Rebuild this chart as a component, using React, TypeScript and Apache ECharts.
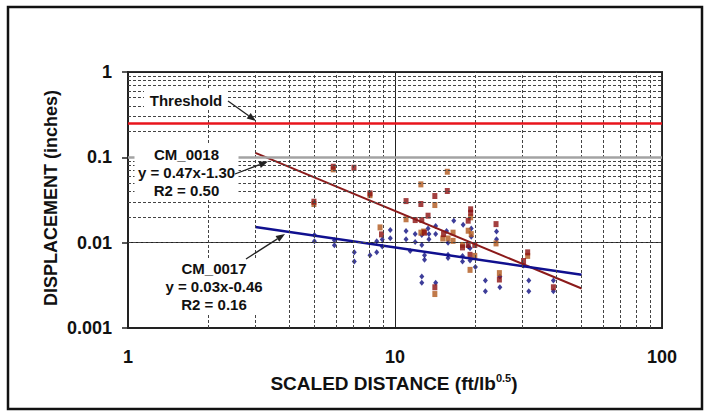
import React, { useEffect, useRef } from "react";
import * as echarts from "echarts";

// CM_0017 measurements (blue diamonds)
const cm0017Points: number[][] = [
  [4.99, 0.0123], [4.99, 0.0104], [5.93, 0.0107], [5.93, 0.0093], [7.04, 0.0077], [7.04, 0.006],
  [8.06, 0.0071], [8.54, 0.0104], [8.54, 0.0077], [8.96, 0.0109], [8.96, 0.009], [9.6, 0.0141], [9.6, 0.0113],
  [11.0, 0.0137], [11.0, 0.011], [11.4, 0.008], [11.9, 0.0126], [11.9, 0.0102], [12.6, 0.0123], [12.6, 0.0094],
  [13.3, 0.0147], [13.4, 0.0126], [13.4, 0.011], [14.2, 0.0157], [14.2, 0.0126], [12.9, 0.0071], [12.9, 0.0063],
  [12.6, 0.004], [12.6, 0.0034], [14.2, 0.0034], [15.6, 0.0137], [15.8, 0.01], [15.8, 0.0072], [15.8, 0.0066],
  [16.6, 0.0181], [18.0, 0.0162], [17.9, 0.007], [17.9, 0.006], [19.3, 0.0147], [19.3, 0.0117], [18.8, 0.009],
  [19.1, 0.0086], [19.1, 0.0062], [20.0, 0.0052], [21.8, 0.0036], [21.8, 0.0027], [24.0, 0.0135], [24.0, 0.011],
  [24.7, 0.004], [24.7, 0.003], [30.3, 0.0054], [31.7, 0.0036], [31.7, 0.0027], [39.2, 0.0036], [39.2, 0.0027],
];

// CM_0018 measurements (dark red squares)
const cm0018Dark: number[][] = [
  [4.97, 0.0302], [5.87, 0.0776], [7.02, 0.0755], [8.06, 0.0378], [8.9, 0.0125], [11.0, 0.0307], [11.9, 0.0184],
  [12.5, 0.0284], [12.6, 0.0184], [12.9, 0.0131], [13.3, 0.0207], [14.1, 0.0352], [15.2, 0.0126], [15.7, 0.0403],
  [18.8, 0.0181], [19.2, 0.0246], [19.2, 0.0224], [23.9, 0.0165], [17.9, 0.0088], [18.8, 0.0094], [19.9, 0.0094],
  [19.1, 0.0072], [14.1, 0.003], [24.6, 0.0037], [30.3, 0.0061], [31.4, 0.0077], [39.2, 0.003],
];

// CM_0018 measurements (orange-brown squares)
const cm0018Light: number[][] = [
  [4.97, 0.0284], [5.87, 0.0723], [8.06, 0.036], [8.79, 0.0151], [11.0, 0.0188], [12.5, 0.0482], [12.5, 0.0131],
  [12.8, 0.0135], [14.1, 0.0276], [15.1, 0.0112], [15.7, 0.0678], [15.8, 0.0112], [16.5, 0.0131], [16.5, 0.0105],
  [18.8, 0.0138], [19.2, 0.0198], [19.3, 0.0126], [17.9, 0.0094], [19.9, 0.007], [19.1, 0.0048], [23.9, 0.0098],
  [14.1, 0.0025], [24.6, 0.0044], [31.4, 0.007],
];

// Trend lines (end points) and threshold
const trend0018: number[][] = [[3, 0.113], [50, 0.0029]];
const trend0017: number[][] = [[3, 0.0153], [50, 0.0042]];
const threshold: number[][] = [[1, 0.25], [100, 0.25]];

// Minor grid positions
const minorX = [2, 3, 4, 5, 6, 7, 8, 9, 20, 30, 40, 50, 60, 70, 80, 90];
const minorY = [
  0.002, 0.003, 0.004, 0.005, 0.006, 0.007, 0.008, 0.009,
  0.02, 0.03, 0.04, 0.05, 0.06, 0.07, 0.08, 0.09,
  0.2, 0.3, 0.4, 0.5, 0.6, 0.7, 0.8, 0.9,
];

const FONT = "'Liberation Sans', Arial, sans-serif";

function arrow(x1: number, y1: number, x2: number, y2: number): any[] {
  const ang = Math.atan2(y2 - y1, x2 - x1);
  const len = 9;
  const hw = 3.5;
  const bx = x2 - len * Math.cos(ang);
  const by = y2 - len * Math.sin(ang);
  const px = -Math.sin(ang) * hw;
  const py = Math.cos(ang) * hw;
  return [
    { type: "line", z: 20, shape: { x1, y1, x2: bx, y2: by }, style: { stroke: "#222", lineWidth: 1.3 } },
    {
      type: "polygon", z: 20,
      shape: { points: [[x2, y2], [bx + px, by + py], [bx - px, by - py]] },
      style: { fill: "#222" },
    },
  ];
}

function labelBox(bx: number, cx: number, cy: number, w: number, h: number, lines: string[]): any[] {
  return [
    { type: "rect", z: 15, shape: { x: bx - w / 2, y: cy - h / 2, width: w, height: h }, style: { fill: "#fff" } },
    {
      type: "text", z: 16, x: cx, y: cy,
      style: {
        text: lines.join("\n"), font: `bold 15px ${FONT}`, fill: "#111",
        align: "center", verticalAlign: "middle", lineHeight: 18,
      },
    },
  ];
}

export default function App() {
  const ref = useRef<HTMLDivElement>(null);
  useEffect(() => {
    if (!ref.current) return;
    const chart = echarts.init(ref.current, null, { renderer: "svg" });
    const fmt = (v: number) => String(parseFloat(Number(v).toPrecision(6)));
    const option: any = {
      animation: false,
      backgroundColor: "#fff",
      grid: {
        left: 128, right: 47, top: 72, bottom: 89,
        show: true, borderColor: "#333", borderWidth: 2, backgroundColor: "#fff",
      },
      xAxis: {
        type: "log", logBase: 10, min: 1, max: 100,
        axisLine: { show: true, lineStyle: { color: "#222", width: 2 } },
        axisTick: { show: false },
        axisLabel: { formatter: fmt, color: "#111", fontSize: 18, fontWeight: "bold", fontFamily: FONT, margin: 20 },
        splitLine: { show: true, lineStyle: { color: "#222", width: 1 } },
      },
      yAxis: {
        type: "log", logBase: 10, min: 0.001, max: 1,
        axisLine: { show: true, lineStyle: { color: "#222", width: 2 } },
        axisTick: { show: true, length: 6, lineStyle: { color: "#222", width: 1.5 } },
        axisLabel: { formatter: fmt, color: "#111", fontSize: 18, fontWeight: "bold", fontFamily: FONT, margin: 16 },
        splitLine: { show: true, lineStyle: { color: "#222", width: 1 } },
      },
      series: [
        {
          type: "line", z: 1, data: [[1, 0.001]], symbol: "none", lineStyle: { opacity: 0 }, silent: true,
          markLine: {
            silent: true, symbol: "none", label: { show: false }, animation: false,
            lineStyle: { color: "#444", type: [3, 2], width: 1 },
            data: [
              ...minorX.map((v) => ({ xAxis: v })),
              ...minorY.map((v) => ({ yAxis: v })),
              { yAxis: 0.1, lineStyle: { color: "#a3a3a3", type: "solid", width: 2.5 } },
            ],
          },
        },
        {
          type: "line", z: 5, data: threshold, symbol: "none",
          lineStyle: { color: "#e8141c", width: 2.5 },
        },
        {
          type: "scatter", z: 3, data: cm0017Points, symbol: "diamond", symbolSize: [5, 6],
          itemStyle: { color: "#0d0d80" },
        },
        {
          type: "scatter", z: 3, data: cm0018Light, symbol: "rect", symbolSize: [5, 6],
          itemStyle: { color: "#b0581c" },
        },
        {
          type: "scatter", z: 3, data: cm0018Dark, symbol: "rect", symbolSize: [5, 6],
          itemStyle: { color: "#8c1010" },
        },
        {
          type: "line", z: 4, data: trend0018, symbol: "none",
          lineStyle: { color: "#8b1a1a", width: 2 },
        },
        {
          type: "line", z: 4, data: trend0017, symbol: "none",
          lineStyle: { color: "#10108f", width: 2.5 },
        },
      ],
      graphic: [
        {
          type: "rect", z: 30, shape: { x: 8, y: 7, width: 694, height: 402 },
          style: { fill: "none", stroke: "#111", lineWidth: 2.5 },
        },
        ...labelBox(186, 186, 100, 84, 20, ["Threshold"]),
        ...labelBox(186.5, 186.5, 172, 104, 56, ["CM_0018", "y = 0.47x-1.30", "R2 = 0.50"]),
        ...labelBox(210, 214, 286.5, 110, 56, ["CM_0017", "y = 0.03x-0.46", "R2 = 0.16"]),
        ...arrow(228, 101, 256, 121),
        ...arrow(235, 174, 268, 161.5),
        ...arrow(246, 259, 285, 234),
        {
          type: "text", z: 16, x: 51, y: 198, rotation: Math.PI / 2,
          style: {
            text: "DISPLACEMENT (inches)", font: `bold 18px ${FONT}`, fill: "#111",
            align: "center", verticalAlign: "middle",
          },
        },
        {
          type: "text", z: 16, x: 394, y: 383,
          style: {
            text: "{m|SCALED DISTANCE (ft/lb}{s|0.5}{m|)}", fill: "#111",
            align: "center", verticalAlign: "middle",
            rich: {
              m: { fontSize: 19, fontWeight: "bold", fontFamily: FONT, lineHeight: 22, fill: "#111" },
              s: { fontSize: 11, fontWeight: "bold", fontFamily: FONT, lineHeight: 12, verticalAlign: "top", fill: "#111" },
            },
          },
        },
      ],
    };
    chart.setOption(option);
    return () => chart.dispose();
  }, []);
  return <div ref={ref} style={{ position: "fixed", left: 0, top: 0, width: 709, height: 417 }} />;
}
